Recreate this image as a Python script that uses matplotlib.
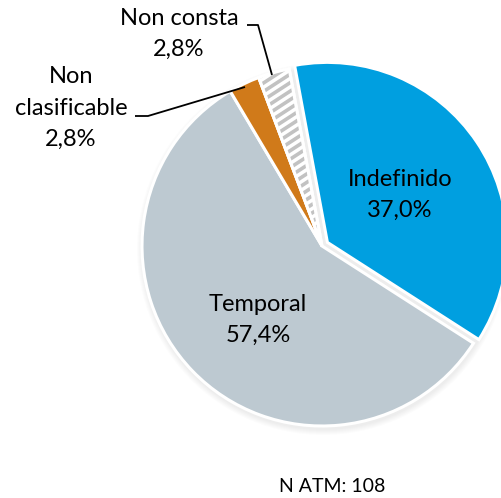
import matplotlib
matplotlib.use("Agg")
import numpy as np
import matplotlib.pyplot as plt
from matplotlib.patches import Wedge

plt.rcParams['font.family'] = ['Lato', 'DejaVu Sans']

categories = ["Indefinido", "Temporal", "Non clasificable", "Non consta"]
values = [37.0, 57.4, 2.8, 2.8]
label_texts = ["Indefinido\n37,0%", "Temporal\n57,4%", "Non\nclasificable\n2,8%", "Non consta\n2,8%"]
colors = ["#009FE0", "#BDC9D1", "#D07A1A", "#FFFFFF"]
note = "N ATM: 108"

W, H = 502, 498
fig = plt.figure(figsize=(W / 100, H / 100), dpi=100)
ax = fig.add_axes([0, 0, 1, 1])

cx, cy, R = 322, 252, 180

wedges, _ = ax.pie(values, colors=colors, startangle=100.5, counterclock=False,
                   center=(cx, cy), radius=R, explode=[6.5, 0, 0, 0],
                   wedgeprops=dict(edgecolor='white', linewidth=2.2))

# soft shadow
for i in range(6):
    ax.add_patch(plt.Circle((cx + 1, cy - 3), R + 1 + i, color='black', alpha=0.012, zorder=0, lw=0))

# hatched "Non consta" slice: diagonal grey stripes clipped to the wedge
wg = wedges[3]
clipw = Wedge(wg.center, wg.r, wg.theta1, wg.theta2, facecolor='none', edgecolor='none', lw=0)
ax.add_patch(clipw)
slope = np.tan(np.radians(33))
xs = np.array([cx - R, cx + R])
for b in np.arange(-2 * R, 2 * R, 8.5):
    ln, = ax.plot(xs, cy + b + slope * (xs - cx), color='#C2C2C2', lw=2.6,
                  solid_capstyle='butt', zorder=wg.get_zorder() + 0.1)
    ln.set_clip_path(clipw)
ow = Wedge(wg.center, wg.r, wg.theta1, wg.theta2, facecolor='none', edgecolor='white',
           lw=2.2, zorder=wg.get_zorder() + 0.2)
ax.add_patch(ow)

ax.set_xlim(0, W)
ax.set_ylim(0, H)
ax.set_aspect('auto')
ax.axis('off')

fs = 17
ls = 1.62
ax.text(400, 303, label_texts[0], ha='center', va='center', fontsize=fs, linespacing=ls, color='#000000')
ax.text(258, 178, label_texts[1], ha='center', va='center', fontsize=fs, linespacing=ls, color='#000000')
ax.text(71, 390, label_texts[2], ha='center', va='center', fontsize=fs, linespacing=ls, color='#000000')
ax.text(179, 464, label_texts[3], ha='center', va='center', fontsize=fs, linespacing=ls, color='#000000')

ax.plot([135, 148, 245], [382, 382, 411], color='black', lw=1.3, solid_capstyle='butt')
ax.plot([247, 258, 272], [473, 473, 423], color='black', lw=1.3, solid_capstyle='butt')

ax.text(332, 12, note, ha='center', va='center', fontsize=14, color='#000000')

fig.savefig("out.png", dpi=100)
